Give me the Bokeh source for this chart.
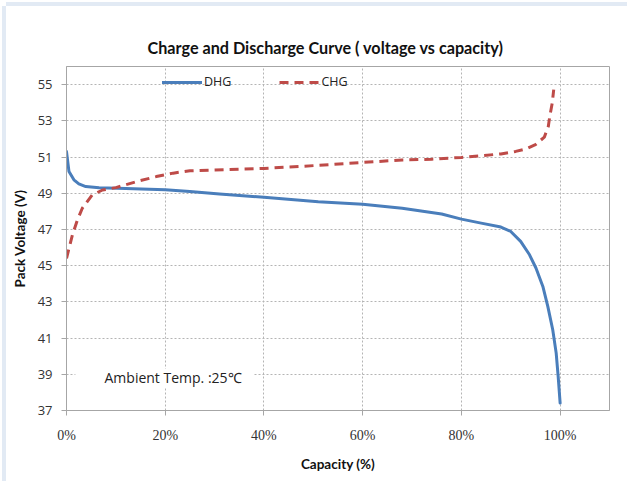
from bokeh.plotting import figure
from bokeh.models import (FixedTicker, PrintfTickFormatter, Legend, LegendItem,
                          Label, BoxAnnotation, Range1d)
from bokeh.embed import file_html
from bokeh.resources import INLINE

# ---- data ----
dhg_cap = [0, 0.5, 1.5, 2.5, 3.9, 6.6, 12, 20, 25, 31, 40, 51, 60, 68, 76, 80,
           84, 88, 90, 92, 93.8, 95.1, 96.5, 97.5, 98.5, 99.2, 99.6, 100]
dhg_v = [51.3, 50.2, 49.74, 49.52, 49.37, 49.3, 49.26, 49.19, 49.1, 48.96, 48.78,
         48.53, 48.39, 48.17, 47.85, 47.57, 47.35, 47.13, 46.89, 46.34, 45.6,
         44.87, 43.85, 42.75, 41.46, 40.17, 38.88, 37.41]

chg_cap = [0, 1.2, 2.2, 3.2, 5.2, 7.3, 10, 14.7, 18.2, 21.6, 25, 32, 40, 51, 60,
           68, 74, 80, 88, 91, 93, 95, 96.8, 97.6, 97.9, 98.4, 98.7]
chg_v = [45.4, 46.7, 47.52, 48.17, 48.9, 49.18, 49.31, 49.68, 49.92, 50.11, 50.24,
         50.3, 50.37, 50.54, 50.7, 50.84, 50.88, 50.98, 51.17, 51.31, 51.44, 51.68,
         52.1, 52.69, 53.24, 53.98, 54.72]

x_ticks = [0, 20, 40, 60, 80, 100]
y_ticks = [37, 39, 41, 43, 45, 47, 49, 51, 53, 55]

series_names = ["DHG", "CHG"]
title_text = "Charge and Discharge Curve ( voltage vs capacity)"
note_text = "Ambient Temp. :25\u2103"

BLUE = "#4a7ebb"
RED = "#be4b48"
GRID = "#b4b4b4"
AXIS = "#a6a6a6"
FRAME = "#e2eaf4"

p = figure(width=621, height=475, output_backend="svg", toolbar_location=None,
           x_range=Range1d(0, 110), y_range=Range1d(37, 56),
           min_border_left=60, min_border_right=18, min_border_top=60,
           min_border_bottom=71, background_fill_color="white",
           border_fill_color="white")
p.styles = {"margin-left": "6px", "margin-top": "6px",
            "box-shadow": "-4px 0 0 0 " + FRAME + ", 0 -4px 0 0 " + FRAME}

p.title.text = title_text
p.title.text_font = "Lato"
p.title.text_font_style = "bold"
p.title.text_font_size = "16.2px"
p.title.align = "left"
p.title.offset = 81
p.title.standoff = 20
p.title.text_color = "#111111"

r_dhg = p.line(dhg_cap, dhg_v, line_color=BLUE, line_width=3, line_join="round",
               line_cap="round")
r_chg = p.line(chg_cap, chg_v, line_color=RED, line_width=3, line_dash="9 6",
               line_join="round")

p.outline_line_color = AXIS
p.outline_line_width = 1

for ax in (p.xaxis[0], p.yaxis[0]):
    ax.axis_line_color = AXIS
    ax.major_tick_line_color = AXIS
    ax.major_tick_out = 5
    ax.major_tick_in = 0
    ax.minor_tick_line_color = None
    ax.axis_label_text_font = "Lato"
    ax.axis_label_text_font_style = "bold"
    ax.axis_label_text_font_size = "13.5px"
    ax.axis_label_text_color = "#111111"

p.xaxis.ticker = FixedTicker(ticks=x_ticks)
p.xaxis.formatter = PrintfTickFormatter(format="%d%%")
p.xaxis.major_label_text_font = "Liberation Serif"
p.xaxis.major_label_text_font_size = "14px"
p.xaxis.major_label_text_color = "#333333"
p.xaxis.major_label_standoff = 12
p.xaxis.axis_label = "Capacity (%)"
p.xaxis.axis_label_standoff = 10

p.yaxis.ticker = FixedTicker(ticks=y_ticks)
p.yaxis.major_label_text_font = "Open Sans"
p.yaxis.major_label_text_font_size = "13px"
p.yaxis.major_label_text_color = "#333333"
p.yaxis.major_label_standoff = 9
p.yaxis.axis_label = "Pack Voltage (V)"
p.yaxis.axis_label_standoff = 7

p.xgrid.ticker = FixedTicker(ticks=x_ticks)
p.ygrid.ticker = FixedTicker(ticks=y_ticks)
for g in (p.xgrid[0], p.ygrid[0]):
    g.grid_line_color = GRID
    g.grid_line_dash = "2 2"
    g.grid_line_width = 1

legend = Legend(items=[LegendItem(label=series_names[0], renderers=[r_dhg]),
                       LegendItem(label=series_names[1], renderers=[r_chg])],
                orientation="horizontal", location=(96, 320),
                background_fill_alpha=0, border_line_alpha=0,
                padding=0, margin=0, spacing=48, glyph_width=40,
                glyph_height=16, label_height=16, label_standoff=2,
                label_text_font="Open Sans", label_text_font_size="12.5px",
                label_text_color="#222222")
p.add_layout(legend, "center")

box = BoxAnnotation(left=1.8, right=37.9, bottom=38.3, top=39.3,
                    fill_color="white", fill_alpha=1, line_alpha=0)
p.add_layout(box)
p.add_layout(Label(x=7.7, y=38.8, text=note_text, text_baseline="middle",
                   text_align="left", text_font="Open Sans",
                   text_font_size="14px", text_color="#222222"))

open("out.html", "w").write(file_html(p, INLINE))
